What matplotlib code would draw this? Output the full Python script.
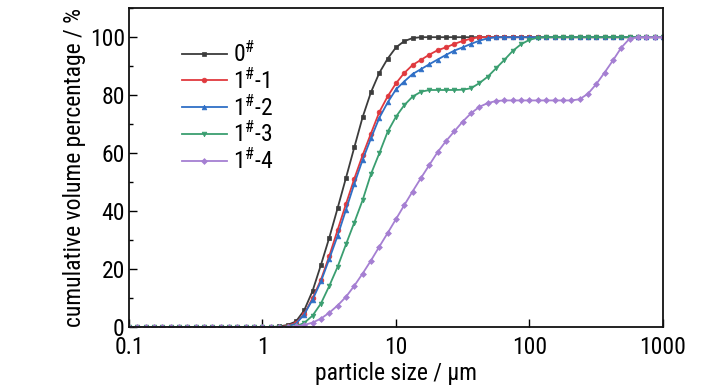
import matplotlib
matplotlib.use("Agg")
import matplotlib.pyplot as plt
from matplotlib import font_manager
from matplotlib.ticker import MultipleLocator, FixedLocator, NullLocator

# ---------------------------------------------------------------------------
# data
# ---------------------------------------------------------------------------

size_um = [
    0.1, 0.115, 0.133, 0.154, 0.178, 0.205, 0.237, 0.274,
    0.316, 0.365, 0.422, 0.487, 0.562, 0.649, 0.750, 0.866,
    1.0, 1.15, 1.33, 1.54, 1.78, 2.05, 2.37, 2.74,
    3.16, 3.65, 4.22, 4.87, 5.62, 6.49, 7.50, 8.66,
    10.0, 11.5, 13.3, 15.4, 17.8, 20.5, 23.7, 27.4,
    31.6, 36.5, 42.2, 48.7, 56.2, 64.9, 75.0, 86.6,
    100, 115, 133, 154, 178, 205, 237, 274,
    316, 365, 422, 487, 562, 649, 750, 866,
    1000,
]

cum_0 = (
    [0.0] * 18
    + [0.3, 0.8, 2.0, 5.8, 12.5, 21.5, 30.8, 41.0, 51.5, 62.0, 72.4,
       81.0, 87.7, 92.6, 96.5, 98.6, 99.7]
    + [100.0] * 30
)

cum_1_1 = (
    [0.0] * 19
    + [0.5, 1.5, 4.5, 10.0, 16.4, 24.5, 33.5, 42.5, 51.2, 59.3, 66.8,
       74.2, 79.6, 84.1, 87.6, 90.4, 92.2, 94.0, 95.5, 96.5, 97.7, 98.7,
       99.5]
    + [100.0] * 23
)

cum_1_2 = (
    [0.0] * 19
    + [0.3, 1.2, 4.4, 9.5, 15.8, 23.5, 31.5, 40.5, 49.4, 57.7, 65.1,
       72.2, 77.5, 82.0, 84.7, 87.3, 89.0, 90.7, 92.3, 93.9, 95.4, 96.5,
       97.7, 98.8, 99.6]
    + [100.0] * 21
)

cum_1_3 = (
    [0.0] * 20
    + [0.3, 1.5, 4.0, 8.2, 14.2, 20.8, 28.6, 36.1, 43.8, 52.8, 60.0,
       67.4, 72.6, 76.5, 79.5, 81.2, 81.8, 81.8, 81.8, 81.8, 81.9, 82.4,
       84.2, 86.4, 89.3, 92.2, 95.3, 97.6, 99.1, 99.8]
    + [100.0] * 15
)

cum_1_4 = (
    [0.0] * 19
    + [0.1, 0.3, 0.8, 1.6, 3.0, 5.0, 7.5, 10.5, 14.3, 18.5, 23.0,
       27.8, 32.5, 37.3, 42.0, 46.8, 51.5, 56.0, 60.4, 64.2, 67.6, 70.9,
       73.8, 76.0, 77.3, 78.0]
    + [78.2] * 9
    + [78.6, 80.5, 83.8, 87.8, 92.0, 96.4, 99.5]
    + [100.0] * 4
)

labels = ["0$^{\\#}$", "1$^{\\#}$-1", "1$^{\\#}$-2", "1$^{\\#}$-3", "1$^{\\#}$-4"]
series = [cum_0, cum_1_1, cum_1_2, cum_1_3, cum_1_4]
colors = ["#3c3c3c", "#e0393e", "#2f6fc6", "#3a9e70", "#a57fd2"]
markers = ["s", "o", "^", "v", "D"]
msizes = [2.8, 3.4, 3.4, 3.4, 3.0]

x_ticks = [0.1, 1, 10, 100, 1000]
x_ticklabels = ["0.1", "1", "10", "100", "1000"]


# ---------------------------------------------------------------------------
# font: the reference uses a narrow sans; take one if the box has it
# ---------------------------------------------------------------------------

def _pick_narrow_font():
    fonts = font_manager.fontManager.ttflist
    names = {f.name for f in fonts}
    for nm in ("Liberation Sans Narrow", "Arial Narrow", "Roboto Condensed",
               "Open Sans Condensed", "Noto Sans Condensed"):
        if nm in names:
            return nm, "normal"
    for nm in ("Liberation Sans", "Roboto", "Noto Sans", "Open Sans",
               "DejaVu Sans", "Lato", "Inter"):
        for f in fonts:
            if f.name == nm and f.stretch in ("condensed", "semi-condensed") \
                    and f.style == "normal" and f.weight in (400, "normal", "regular"):
                return nm, f.stretch
    return None, None


narrow, stretch = _pick_narrow_font()
if narrow:
    plt.rcParams["font.family"] = [narrow, "Liberation Sans", "DejaVu Sans"]
    plt.rcParams["font.stretch"] = stretch
    fs_tick, fs_label, fs_leg = 17, 17, 17
else:
    plt.rcParams["font.family"] = ["Liberation Sans", "DejaVu Sans"]
    fs_tick, fs_label, fs_leg = 14, 14.5, 15.5
plt.rcParams["mathtext.default"] = "regular"

# ---------------------------------------------------------------------------
# plot
# ---------------------------------------------------------------------------

fig = plt.figure(figsize=(7.28, 3.90), dpi=100)
ax = fig.add_axes([0.1772, 0.1608, 0.7335, 0.8182])

for y, lab, c, m, ms in zip(series, labels, colors, markers, msizes):
    ax.plot(size_um, y, color=c, marker=m, markersize=ms, linewidth=1.3,
            markeredgewidth=0.5, label=lab)

ax.set_xscale("log")
ax.set_xlim(0.1, 1000)
ax.set_ylim(0, 110)

ax.xaxis.set_major_locator(FixedLocator(x_ticks))
ax.xaxis.set_minor_locator(NullLocator())
ax.set_xticklabels(x_ticklabels)
ax.yaxis.set_major_locator(MultipleLocator(20))
ax.yaxis.set_minor_locator(MultipleLocator(10))

ax.tick_params(axis="both", which="both", direction="in", top=False, right=False)
ax.tick_params(axis="both", which="major", length=6, width=1.0, labelsize=fs_tick)
ax.tick_params(axis="x", which="major", pad=6.5)
ax.tick_params(axis="y", which="major", pad=3)
ax.tick_params(axis="y", which="minor", length=3, width=1.0)

for sp in ax.spines.values():
    sp.set_linewidth(1.3)
    sp.set_color("#111111")

ax.set_xlabel("particle size / μm", fontsize=fs_label, labelpad=2)
ax.set_ylabel("cumulative volume percentage / %", fontsize=fs_label, labelpad=3)

ax.legend(loc="upper left", bbox_to_anchor=(0.09, 0.91), frameon=False,
          fontsize=fs_leg, numpoints=1, handlelength=1.9, handletextpad=0.25,
          labelspacing=0.07, borderaxespad=0, borderpad=0.2)

fig.savefig("out.png", dpi=100)
